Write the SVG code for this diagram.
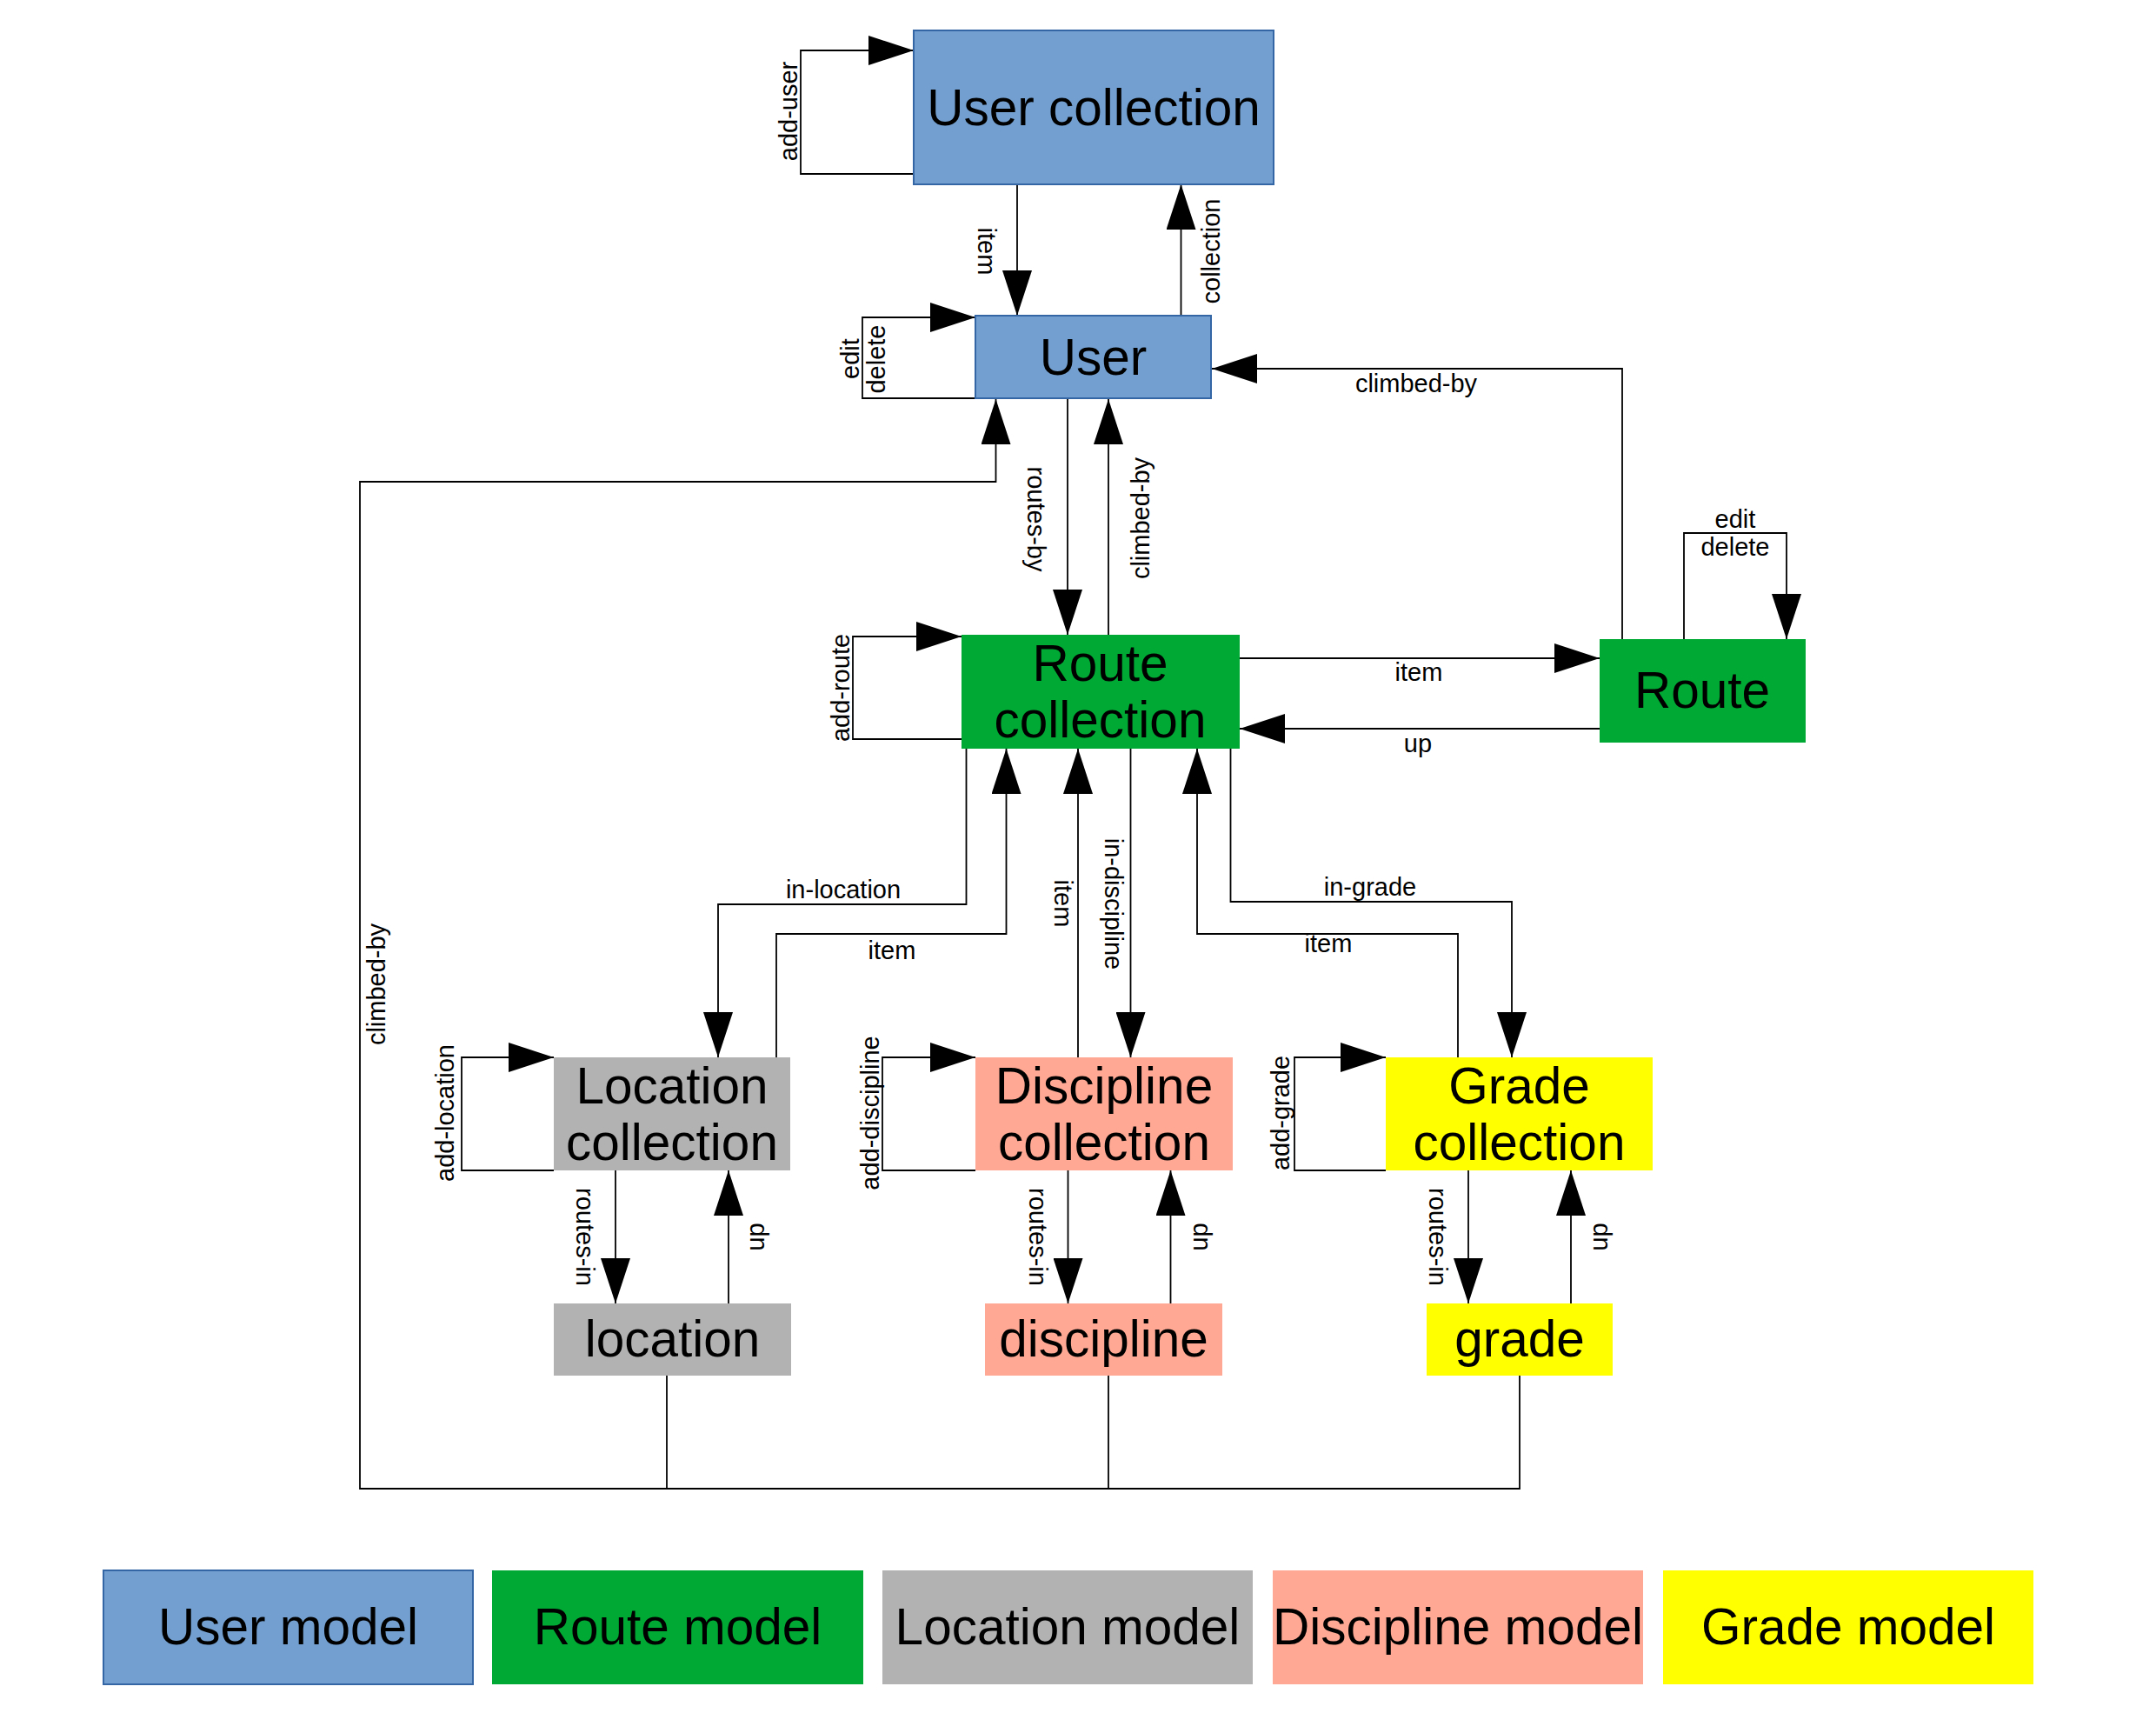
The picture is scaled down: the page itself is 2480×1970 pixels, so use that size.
<svg xmlns="http://www.w3.org/2000/svg" width="2480" height="1970" viewBox="0 0 2480 1970">
<defs>
<marker id="arr" markerUnits="userSpaceOnUse" markerWidth="52" markerHeight="34" viewBox="0 0 52 34" refX="52" refY="17" orient="auto">
<path d="M0,0 L52,17 L0,34 Z" fill="#000"/>
</marker>
</defs>
<style>
text{font-family:"Liberation Sans",Arial,sans-serif;fill:#000}
.big{font-size:58.5px;text-anchor:middle}
.lbl{font-size:29px;text-anchor:middle}
.user{fill:#729fcf;stroke:#3465a4;stroke-width:2}
.route{fill:#00a933}
.loc{fill:#b2b2b2}
.disc{fill:#ffa994}
.grade{fill:#ffff00}
.c{fill:none;stroke:#000;stroke-width:1.8}
.a{marker-end:url(#arr)}
</style>
<rect width="2480" height="1970" fill="#fff"/>

<g id="connectors">
<path class="c a" d="M1051,200 H921 V58 H1051"/>
<path class="c a" d="M1170,212 V363"/>
<path class="c a" d="M1358.5,363 V212"/>
<path class="c a" d="M1122,458 H992 V365 H1122"/>
<path class="c a" d="M1866,735 V424 H1394"/>
<path class="c a" d="M1228,458 V730"/>
<path class="c a" d="M1275,730 V459"/>
<path class="c a" d="M1748,1582 V1712 H414 V554 H1145.5 V459"/>
<path class="c" d="M767,1582 V1712"/>
<path class="c" d="M1275,1582 V1712"/>
<path class="c a" d="M1106,850 H981 V732 H1106"/>
<path class="c a" d="M1425,757 H1840"/>
<path class="c a" d="M1840,838 H1426"/>
<path class="c a" d="M1937,735 V613 H2055 V735"/>
<path class="c a" d="M1111.5,861 V1040 H826 V1216"/>
<path class="c a" d="M893,1216 V1074 H1157.5 V861"/>
<path class="c a" d="M1240,1216 V861"/>
<path class="c a" d="M1300.5,861 V1216"/>
<path class="c a" d="M1677,1216 V1074 H1377 V861"/>
<path class="c a" d="M1415.5,861 V1037 H1739 V1216"/>
<path class="c a" d="M637,1346 H531 V1216 H637"/>
<path class="c a" d="M1122,1346 H1015 V1216 H1122"/>
<path class="c a" d="M1594,1346 H1489 V1216 H1594"/>
<path class="c a" d="M708,1346 V1499"/>
<path class="c a" d="M838,1499 V1346"/>
<path class="c a" d="M1228.5,1346 V1499"/>
<path class="c a" d="M1346.5,1499 V1346"/>
<path class="c a" d="M1689,1346 V1499"/>
<path class="c a" d="M1807,1499 V1346"/>

<text class="lbl" x="907" y="138" transform="rotate(-90 907 128)">add-user</text>
<text class="lbl" x="1135" y="299" transform="rotate(90 1135 289)">item</text>
<text class="lbl" x="1393" y="299" transform="rotate(-90 1393 289)">collection</text>
<text class="lbl" x="977.5" y="422.5" transform="rotate(-90 977.5 412.5)">edit</text>
<text class="lbl" x="1008" y="423" transform="rotate(-90 1008 413)">delete</text>
<text class="lbl" x="1629" y="451">climbed-by</text>
<text class="lbl" x="1192" y="607" transform="rotate(90 1192 597)">routes-by</text>
<text class="lbl" x="1312" y="606" transform="rotate(-90 1312 596)">climbed-by</text>
<text class="lbl" x="967" y="801" transform="rotate(-90 967 791)">add-route</text>
<text class="lbl" x="1632" y="783">item</text>
<text class="lbl" x="1631" y="865">up</text>
<text class="lbl" x="1996" y="607">edit</text>
<text class="lbl" x="1996" y="639">delete</text>
<text class="lbl" x="970" y="1033">in-location</text>
<text class="lbl" x="1026" y="1103">item</text>
<text class="lbl" x="1223" y="1049" transform="rotate(90 1223 1039)">item</text>
<text class="lbl" x="1281" y="1049.5" transform="rotate(90 1281 1039.5)">in-discipline</text>
<text class="lbl" x="1576" y="1030">in-grade</text>
<text class="lbl" x="1528" y="1095">item</text>
<text class="lbl" x="432.5" y="1142" transform="rotate(-90 432.5 1132)">climbed-by</text>
<text class="lbl" x="512" y="1290" transform="rotate(-90 512 1280)">add-location</text>
<text class="lbl" x="1001" y="1290" transform="rotate(-90 1001 1280)">add-discipline</text>
<text class="lbl" x="1473" y="1290" transform="rotate(-90 1473 1280)">add-grade</text>
<text class="lbl" x="673" y="1432.5" transform="rotate(90 673 1422.5)">routes-in</text>
<text class="lbl" x="873" y="1432.5" transform="rotate(90 873 1422.5)">dn</text>
<text class="lbl" x="1194" y="1432.5" transform="rotate(90 1194 1422.5)">routes-in</text>
<text class="lbl" x="1383" y="1432.5" transform="rotate(90 1383 1422.5)">dn</text>
<text class="lbl" x="1654" y="1432.5" transform="rotate(90 1654 1422.5)">routes-in</text>
<text class="lbl" x="1843" y="1432.5" transform="rotate(90 1843 1422.5)">dn</text>
</g>

<g id="user-collection">
<rect class="user" x="1051" y="35" width="414" height="177"/>
<text class="big" x="1258" y="144">User collection</text>
</g>
<g id="user">
<rect class="user" x="1122" y="363" width="271" height="95"/>
<text class="big" x="1257.5" y="431">User</text>
</g>
<g id="route-collection">
<rect class="route" x="1106" y="730" width="320" height="131"/>
<text class="big" x="1265.5" y="783">Route</text>
<text class="big" x="1265.5" y="848">collection</text>
</g>
<g id="route">
<rect class="route" x="1840" y="735" width="237" height="119"/>
<text class="big" x="1958" y="814">Route</text>
</g>
<g id="location-collection">
<rect class="loc" x="637" y="1216" width="272" height="130"/>
<text class="big" x="773" y="1268.5">Location</text>
<text class="big" x="773" y="1333.5">collection</text>
</g>
<g id="discipline-collection">
<rect class="disc" x="1122" y="1216" width="296" height="130"/>
<text class="big" x="1270" y="1268.5">Discipline</text>
<text class="big" x="1270" y="1333.5">collection</text>
</g>
<g id="grade-collection">
<rect class="grade" x="1594" y="1216" width="307" height="130"/>
<text class="big" x="1747.5" y="1268.5">Grade</text>
<text class="big" x="1747.5" y="1333.5">collection</text>
</g>
<g id="location">
<rect class="loc" x="637" y="1499" width="273" height="83"/>
<text class="big" x="773.5" y="1560">location</text>
</g>
<g id="discipline">
<rect class="disc" x="1133" y="1499" width="273" height="83"/>
<text class="big" x="1269.5" y="1560">discipline</text>
</g>
<g id="grade">
<rect class="grade" x="1641" y="1499" width="214" height="83"/>
<text class="big" x="1748" y="1560">grade</text>
</g>

<g id="legend-user">
<rect class="user" x="119" y="1806" width="425" height="131"/>
<text class="big" x="331.5" y="1891">User model</text>
</g>
<g id="legend-route">
<rect class="route" x="566" y="1806" width="427" height="131"/>
<text class="big" x="779.5" y="1891">Route model</text>
</g>
<g id="legend-location">
<rect class="loc" x="1015" y="1806" width="426" height="131"/>
<text class="big" x="1228" y="1891">Location model</text>
</g>
<g id="legend-discipline">
<rect class="disc" x="1464" y="1806" width="426" height="131"/>
<text class="big" x="1677" y="1891">Discipline model</text>
</g>
<g id="legend-grade">
<rect class="grade" x="1913" y="1806" width="426" height="131"/>
<text class="big" x="2126" y="1891">Grade model</text>
</g>
</svg>
